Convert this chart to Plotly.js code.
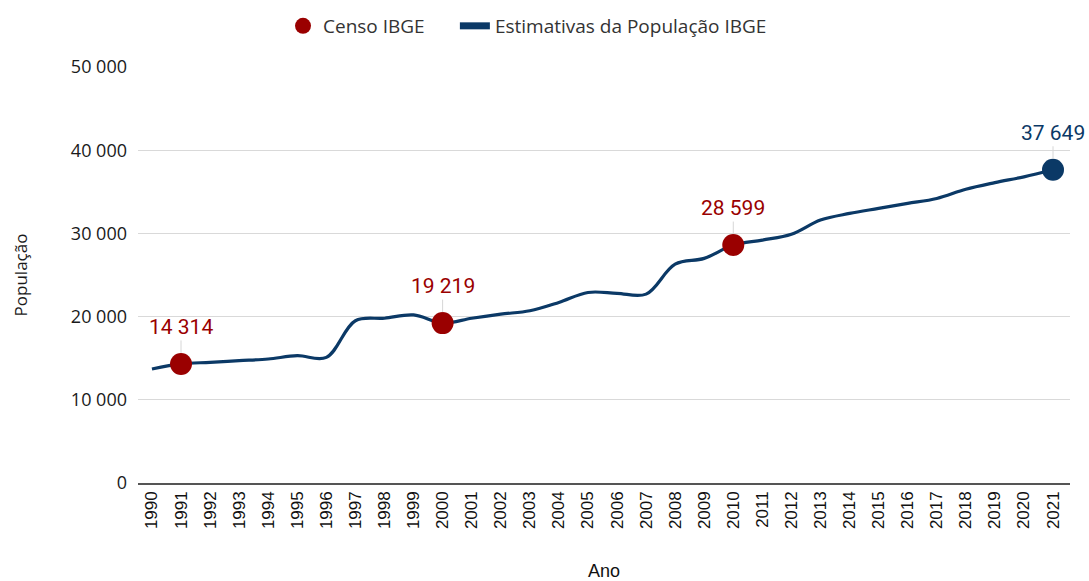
<!DOCTYPE html>
<html>
<head>
<meta charset="utf-8">
<script src="https://cdn.plot.ly/plotly-3.0.1.min.js"></script>
<style>html,body{margin:0;padding:0;background:#fff;}#chart{width:1089px;height:581px;}</style>
</head>
<body>
<div id="chart"></div>
<script>
const years = [1990,1991,1992,1993,1994,1995,1996,1997,1998,1999,2000,2001,2002,2003,2004,2005,2006,2007,2008,2009,2010,2011,2012,2013,2014,2015,2016,2017,2018,2019,2020,2021];
const estimates = [13700,14314,14500,14700,14900,15300,15100,19500,19800,20200,19219,19800,20300,20700,21700,22900,22800,22700,26300,27000,28599,29200,29900,31600,32400,33000,33600,34200,35300,36100,36800,37649];
const censusYears = [1991,2000,2010];
const censusValues = [14314,19219,28599];
const lastYear = [2021];
const lastValue = [37649];
const yTicks = [0,10000,20000,30000,40000,50000];

const RED = '#9A0000';
const BLUE = '#0B3966';

function fmt(v){ return String(v).replace(/\B(?=(\d{3})+(?!\d))/g,' '); }

const traces = [
  {x: years, y: estimates, type:'scatter', mode:'lines', name:'Estimativas da População IBGE',
   line:{color:BLUE, width:3.2, shape:'spline', smoothing:1}, showlegend:false, hoverinfo:'x+y'},
  {x: censusYears, y: censusValues, type:'scatter', mode:'markers', name:'Censo IBGE',
   marker:{color:RED, size:22}, showlegend:true, legend:'legend'},
  {x: [null], y: [null], type:'scatter', mode:'lines', name:'Estimativas da População IBGE',
   line:{color:BLUE, width:7}, showlegend:true, legend:'legend2'},
  {x: lastYear, y: lastValue, type:'scatter', mode:'markers', name:'2021',
   marker:{color:BLUE, size:22}, showlegend:false}
];

const annotations = [];
censusYears.forEach((yr,i)=>{
  annotations.push({x:yr, y:censusValues[i], xref:'x', yref:'y', text:fmt(censusValues[i]),
    showarrow:true, arrowhead:0, arrowwidth:1, arrowcolor:'#d6d6d6', ax:0, ay:-37, standoff:11,
    font:{family:'Roboto, sans-serif', size:21, color:RED}});
});
annotations.push({x:lastYear[0], y:lastValue[0], xref:'x', yref:'y', text:fmt(lastValue[0]),
  showarrow:true, arrowhead:0, arrowwidth:1, arrowcolor:'#d6d6d6', ax:0, ay:-37, standoff:11,
  font:{family:'Roboto, sans-serif', size:21, color:BLUE}});

const legFont = {family:'Open Sans, sans-serif', size:19, color:'#333'};

const layout = {
  width:1089, height:581,
  margin:{l:138, r:19, t:67, b:98, autoexpand:false},
  paper_bgcolor:'#fff', plot_bgcolor:'#fff',
  showlegend:true,
  legend:{orientation:'h', x:0.1556, xanchor:'left', y:1.0986, yanchor:'middle', font:legFont},
  legend2:{orientation:'h', x:0.340, xanchor:'left', y:1.0986, yanchor:'middle', font:legFont},
  xaxis:{range:[1989.52, 2021.585], tickmode:'array', tickvals: years, ticktext: years.map(String),
    tickangle:-90, showgrid:false, zeroline:false, showline:true, linecolor:'#555', linewidth:1.5,
    ticks:'', tickfont:{family:'Liberation Sans, Arial, sans-serif', size:17, color:'#111'},
    title:{text:'Ano', font:{family:'Liberation Sans, Arial, sans-serif', size:18, color:'#111'}, standoff:40}},
  yaxis:{range:[0,50000], tickmode:'array', tickvals:yTicks, ticktext:yTicks.map(fmt),
    showgrid:true, gridcolor:'#d9d9d9', gridwidth:1, zeroline:false, showline:false, ticks:'',
    ticklabelstandoff:10,
    tickfont:{family:'Open Sans, sans-serif', size:18, color:'#1a1a1a'},
    title:{text:'População', font:{family:'Open Sans, sans-serif', size:17, color:'#1a1a1a'}, standoff:38}},
  annotations: annotations
};

Plotly.newPlot('chart', traces, layout, {displayModeBar:false, staticPlot:true});
</script>
</body>
</html>
